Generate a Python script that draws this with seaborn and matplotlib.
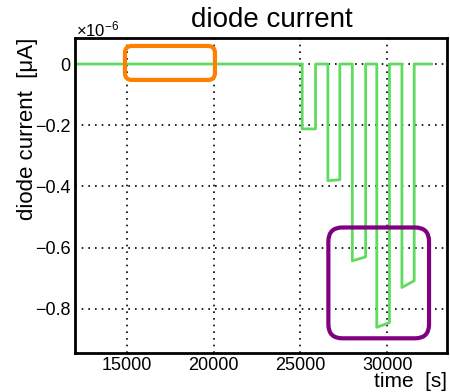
import numpy as np
import pandas as pd
import matplotlib
matplotlib.use("Agg")
import matplotlib.pyplot as plt
import seaborn as sns
from matplotlib.patches import FancyBboxPatch
from matplotlib.transforms import IdentityTransform
from matplotlib.ticker import MultipleLocator, FuncFormatter

# ---- data (time in s, current in A) ----
time_s = [12050, 25100, 25100, 25870, 25870, 26580, 26580, 27270, 27270,
          27990, 27990, 28760, 28760, 29400, 29400, 30130, 30130,
          30850, 30850, 31560, 31560, 32580]
current_A = [0, 0, -0.212e-6, -0.212e-6, 0, 0, -0.381e-6, -0.378e-6, 0,
             0, -0.643e-6, -0.630e-6, 0, 0, -0.860e-6, -0.845e-6, 0,
             0, -0.730e-6, -0.708e-6, 0, 0]

# highlight boxes: (t0, t1, y0, y1)
orange_box = [14880, 20070, -0.052e-6, 0.059e-6]
purple_box = [26610, 32415, -0.896e-6, -0.534e-6]

xticks = [15000, 20000, 25000, 30000]
yticks = [-0.8e-6, -0.6e-6, -0.4e-6, -0.2e-6, 0]

df = pd.DataFrame({"time": time_s, "current": current_A})

sns.set_style("white")
plt.rcParams['font.family'] = ['Liberation Sans', 'DejaVu Sans']
plt.rcParams['mathtext.fontset'] = 'custom'
plt.rcParams['mathtext.rm'] = 'Liberation Sans'
plt.rcParams['mathtext.it'] = 'Liberation Sans:italic'
plt.rcParams['text.color'] = 'black'
plt.rcParams['axes.labelcolor'] = 'black'

W, H = 450, 392
fig = plt.figure(figsize=(4.5, 3.92), dpi=100)
ax = fig.add_axes([75/W, 39/H, 372/W, 315/H])

sns.lineplot(data=df, x="time", y="current", ax=ax, sort=False, estimator=None,
             color="#5fdc5f", linewidth=2)

ax.set_xlim(12000, 33450)
ax.set_ylim(-0.944e-6, 0.085e-6)
ax.set_xticks(xticks)
ax.set_yticks(yticks)
ax.xaxis.set_minor_locator(MultipleLocator(1000))
ax.yaxis.set_minor_locator(MultipleLocator(0.05e-6))
ax.yaxis.set_major_formatter(FuncFormatter(lambda v, p: f"{round(v*1e6, 3):g}".replace("-", "\u2212")))

ax.grid(True, which='major', linestyle=(0, (1, 3)), color='black', linewidth=1.2)
for s in ax.spines.values():
    s.set_color('black')
    s.set_linewidth(2)
ax.tick_params(which='both', direction='in', colors='black', labelsize=13, width=1.2)
ax.tick_params(which='major', length=10)
ax.tick_params(which='minor', length=5)
ax.tick_params(axis='x', which='major', pad=3)
ax.tick_params(axis='y', which='major', pad=3)

ax.set_xlabel("")
ax.set_ylabel("")

def px(x, y):
    return x / W, 1 - y / H

fig.text(*px(272, 20), "diode current", fontsize=20, ha='center', va='center')
fig.text(*px(447, 391), "time  [s]", fontsize=15, ha='right', va='bottom')
fig.text(*px(28, 129), "diode current  [\u03bcA]", fontsize=16, rotation=90,
         ha='center', va='center')
fig.text(*px(76, 29), "\u00d710$^{-6}$", fontsize=12, ha='left', va='center')

fig.canvas.draw()

def add_box(b, color, rad):
    (x0, y0) = ax.transData.transform((b[0], b[2]))
    (x1, y1) = ax.transData.transform((b[1], b[3]))
    p = FancyBboxPatch((x0, y0), x1 - x0, y1 - y0,
                       boxstyle=f"round,pad=0,rounding_size={rad}",
                       transform=IdentityTransform(), fill=False,
                       edgecolor=color, linewidth=3, zorder=5)
    fig.add_artist(p)

add_box(orange_box, "#ff8000", 7)
add_box(purple_box, "#800080", 14)

fig.savefig("out.png", dpi=100)
